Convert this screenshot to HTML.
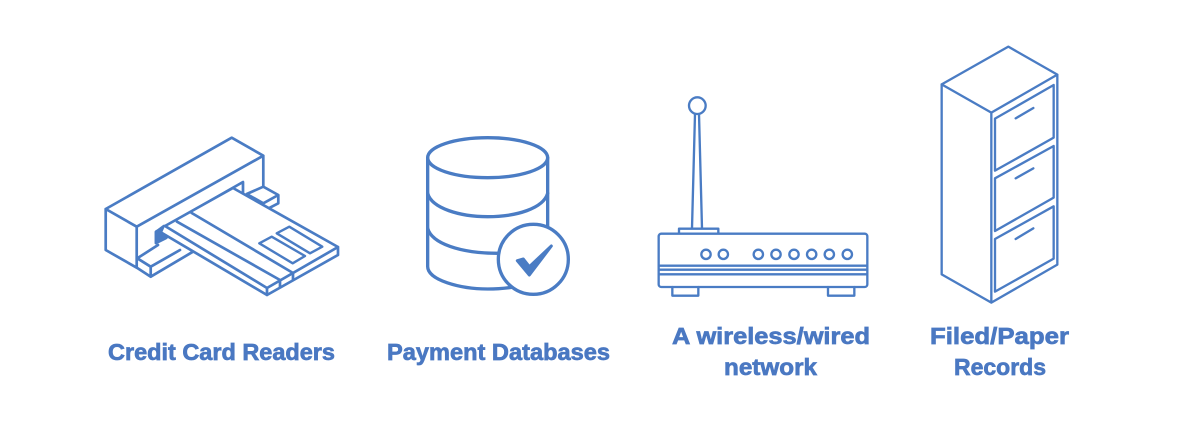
<!DOCTYPE html>
<html><head><meta charset="utf-8"><style>
html,body{margin:0;padding:0;background:#fff;width:1200px;height:444px;overflow:hidden}
svg{display:block}
text{font-family:"Liberation Sans",sans-serif;font-weight:700;font-size:23px;fill:#4a78c2;stroke:#4a78c2;stroke-width:.7px}
.i{fill:none;stroke:#4a7cc4;stroke-linejoin:round;stroke-linecap:round}
</style></head><body>
<svg width="1200" height="444" viewBox="0 0 1200 444" xmlns="http://www.w3.org/2000/svg">
<rect width="1200" height="444" fill="#fff"/>
<!-- card reader -->
<g class="i" stroke-width="2.7">
<path d="M105.7 209L231.7 137.7L263.3 155.7L136.7 226.7ZM105.7 209V250L136.7 267.7V226.7M263.3 155.7V186.7"/>
<path d="M137.3 258.3L158 245M150.7 266.7L180 250M137.3 258.3L150.7 266.7V276.7L137.3 268M150.7 276.7L193 251.7"/>
<path d="M246.7 194L263.3 186.7L278.3 195V203.3L266.7 209.3M263.3 203.3L278.3 195M246.7 194L263.3 203.3"/>
<path d="M156 243V231.7L243 182V193"/>
<path d="M156 232V243L166 238L172 233L164 226Z" fill="#4a7cc4"/>
<path d="M165 226L233 188L338 247V255L267 295L162 233L165 226Z" fill="#fff" stroke="none"/>
<path d="M165 226L233 188L338 247L267 288ZM162 233L267 295L338 255V247M267 288V295"/>
<path d="M177 221.7L280 280V287M191.7 213L293 273V280"/>
<path d="M259.3 243.3L271.7 236.7L305 256L292.7 263.3Z" stroke-width="2.4"/>
<path d="M276.7 233.3L289.3 226.7L322.3 246.7L310 253.3Z" stroke-width="2.4"/>
</g>
<!-- database -->
<g class="i" transform="translate(410,125) scale(.33333)" stroke-width="10">
<ellipse cx="233" cy="98" rx="180" ry="60"/>
<path d="M53 98V425C53 465 150 492 233 492C260 492 285 490 305 487"/>
<path d="M413 98V305"/>
<path d="M53 205C65 250 150 275 233 275C320 275 400 250 413 205"/>
<path d="M53 310C65 355 150 385 265 385"/>
<circle cx="370" cy="403" r="105" fill="#fff"/>
<path d="M322 407L340 402L358 425L424 363L358 450Z" fill="#4a7cc4" stroke-width="9"/>
</g>
<!-- router -->
<g class="i" transform="translate(645,90) scale(.33333)" stroke-width="7">
<circle cx="157" cy="47" r="25"/>
<path d="M150 72L141 415M162 72L171 415"/>
<path d="M102 430V416H220V430"/>
<rect x="41" y="431" width="626" height="160" rx="8"/>
<path d="M41 527H667M41 539H667M41 553H667"/>
<path d="M82 591V617H160V591M549 591V617H628V591"/>
<circle cx="183" cy="493" r="14"/><circle cx="235" cy="493" r="14"/>
<circle cx="340" cy="493" r="14"/><circle cx="393" cy="493" r="14"/><circle cx="447" cy="493" r="14"/><circle cx="500" cy="493" r="14"/><circle cx="553" cy="493" r="14"/><circle cx="607" cy="493" r="14"/>
</g>
<!-- cabinet -->
<g class="i" transform="translate(930,40) scale(.33333)" stroke-width="7">
<path d="M235 20L382 104L184 218L35 133ZM35 133V703L184 788L382 674V104M184 218V788"/>
<path d="M195 236L371 135V293L195 392Z"/>
<path d="M195 415L371 318V473L195 573Z"/>
<path d="M195 597L371 499V656L195 755Z"/>
<path d="M257 235L310 204M257 415L310 385M257 597L310 565"/>
</g>
<text x="108" y="360" textLength="227" lengthAdjust="spacingAndGlyphs">Credit Card Readers</text>
<text x="387" y="360" textLength="223" lengthAdjust="spacingAndGlyphs">Payment Databases</text>
<text x="672" y="344" textLength="198" lengthAdjust="spacingAndGlyphs">A wireless/wired</text>
<text x="724" y="375" textLength="93" lengthAdjust="spacingAndGlyphs">network</text>
<text x="930" y="344" textLength="139" lengthAdjust="spacingAndGlyphs">Filed/Paper</text>
<text x="954" y="375" textLength="92" lengthAdjust="spacingAndGlyphs">Records</text>
</svg>
</body></html>
